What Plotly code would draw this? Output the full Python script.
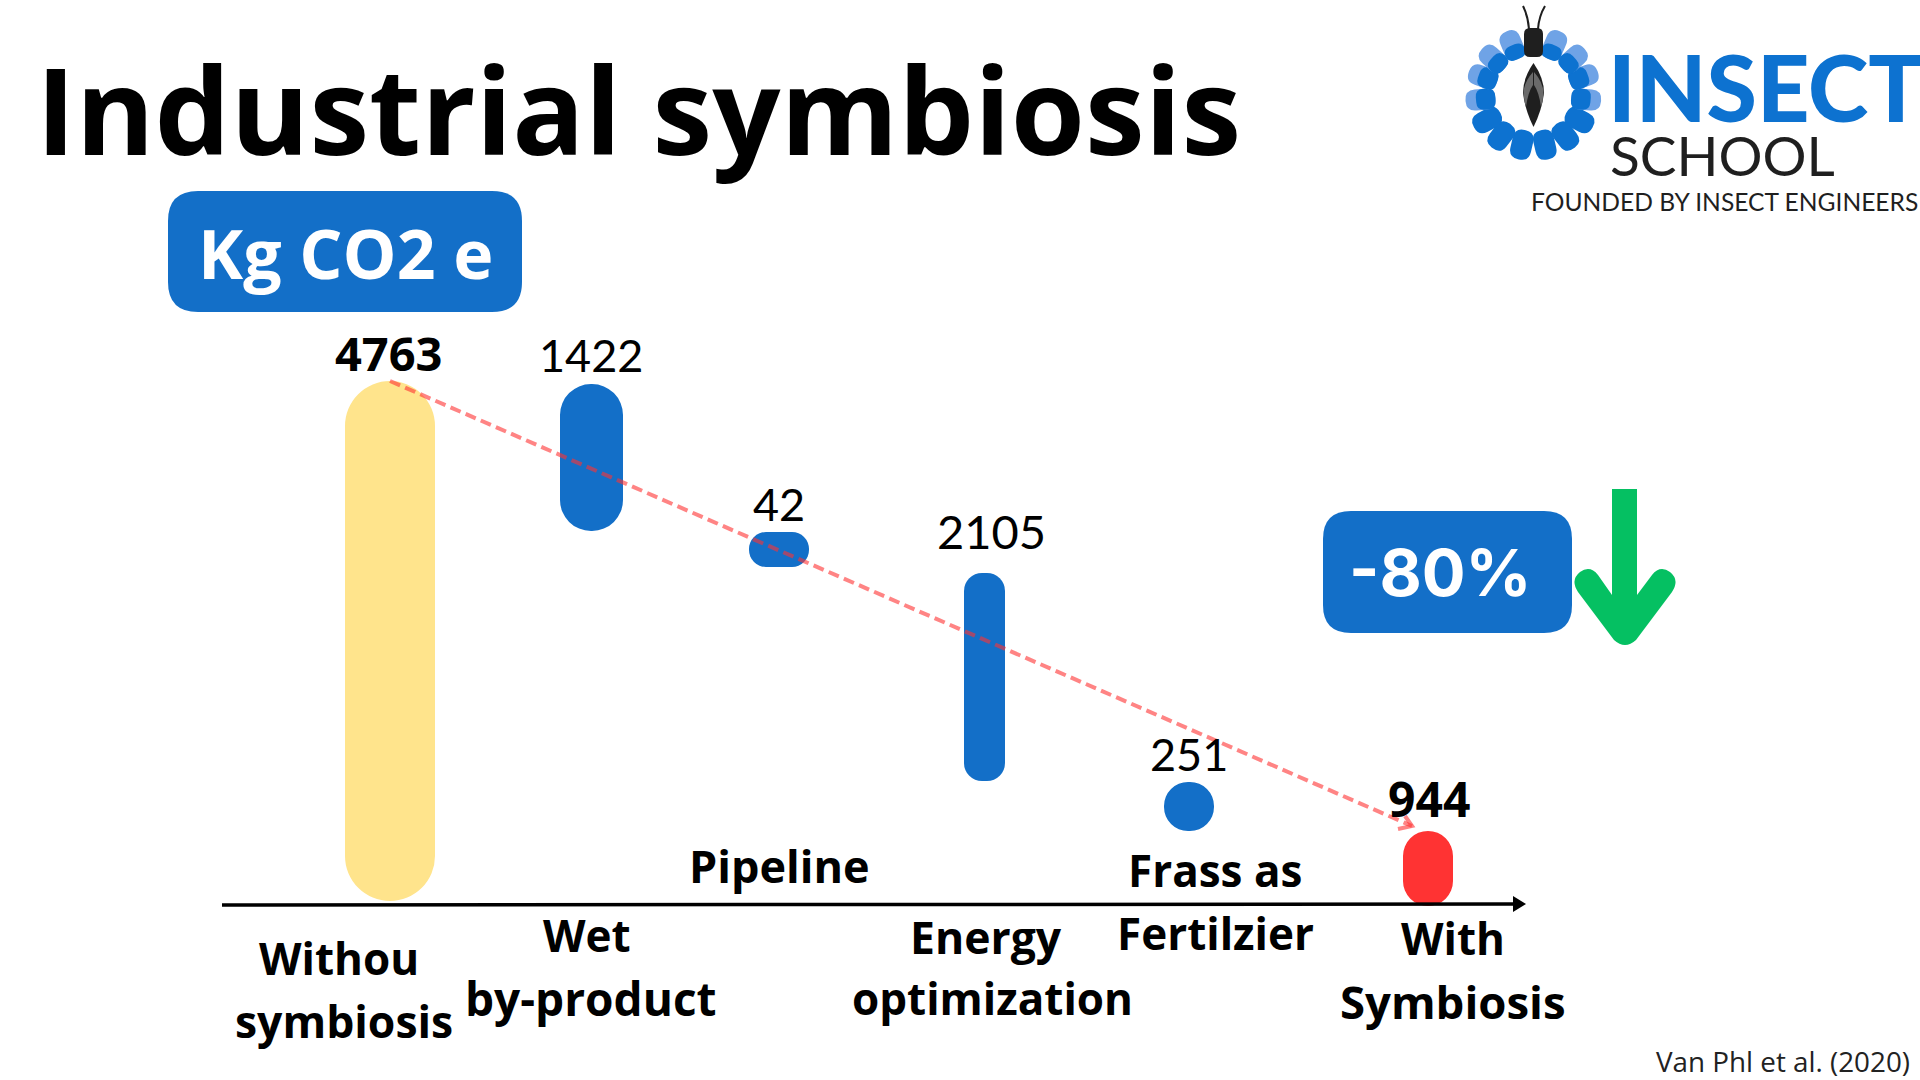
import math
import plotly.graph_objects as go

# values printed on the chart
categories = ['Without symbiosis', 'Wet by-product', 'Pipeline', 'Energy optimization', 'Frass as Fertilzier', 'With Symbiosis']
value_labels = ['4763', '1422', '42', '2105', '251', '944']

# extent of each bar, kg CO2 e
bar_top = [4763, 4736, 3391, 3018, 1118, 673]
bar_bottom = [36, 3400, 3072, 1127, 673, -9]

# drawing settings, one per bar
bar_x = [390, 591.5, 779, 984.5, 1189, 1428]
bar_width = [90, 63, 60, 41, 50, 50]
bar_radius = [45, 31, 17, 18, 25, 25]
bar_color = ['#FFE48C', '#136FC8', '#136FC8', '#136FC8', '#136FC8', '#FF3333']

BLUE = '#136FC8'
LOGO_BLUE = '#0D72D0'
LIGHT_BLUE = '#6FA3E6'
DARK = '#1F1F1F'


def box_path(x0, y0, x1, y1, r):
    return (f'M{x0+r} {y0} L{x1-r} {y0} Q{x1} {y0} {x1} {y0+r} L{x1} {y1-r} Q{x1} {y1} {x1-r} {y1} '
            f'L{x0+r} {y1} Q{x0} {y1} {x0} {y1-r} L{x0} {y0+r} Q{x0} {y0} {x0+r} {y0} Z')


def petal_path(cx, cy, length, width, r, angle):
    # rounded box rotated about its centre, angle counted from straight down
    a = math.radians(angle)
    ux, uy = math.sin(a), math.cos(a)
    vx, vy = uy, -ux
    def pt(s, t):
        return f'{cx + s*ux + t*vx:.2f} {cy + s*uy + t*vy:.2f}'
    l, w = length / 2, width / 2
    return (f'M{pt(-l+r, -w)} L{pt(l-r, -w)} Q{pt(l, -w)} {pt(l, -w+r)} L{pt(l, w-r)} Q{pt(l, w)} {pt(l-r, w)} '
            f'L{pt(-l+r, w)} Q{pt(-l, w)} {pt(-l, w-r)} L{pt(-l, -w+r)} Q{pt(-l, -w)} {pt(-l+r, -w)} Z')


def add_shape(path, color, line=None, width=0):
    shapes.append(dict(type='path', path=path, xref='x', yref='y2', fillcolor=color, layer='above',
                       line=dict(color=line or color, width=width)))


def add_text(text, x, y, size, color='black', family='Open Sans', weight=700, anchor='center'):
    annotations.append(dict(text=text, x=x, y=y, xref='x', yref='y2', xanchor=anchor, yanchor='middle',
                            showarrow=False, font=dict(size=size, color=color, family=family, weight=weight)))


fig = go.Figure()

# one floating bar per step, plotly rounds both ends when they are not stacked
for i in range(len(bar_top)):
    fig.add_trace(go.Bar(x=[bar_x[i]], y=[bar_top[i] - bar_bottom[i]], base=[bar_bottom[i]], width=[bar_width[i]],
                         name=categories[i], showlegend=False, hoverinfo='skip',
                         marker=dict(color=bar_color[i], line_width=0, cornerradius=bar_radius[i])))

shapes = []
annotations = []

# x axis with its arrow
shapes.append(dict(type='line', x0=222, y0=905, x1=1520, y1=904, xref='x', yref='y2', layer='above',
                   line=dict(color='black', width=3.5)))
add_shape('M1513 896 L1526 904 L1513 912 Z', 'black')

# dashed trend arrow
shapes.append(dict(type='line', x0=390, y0=381, x1=1412, y1=826, xref='x', yref='y2', layer='above',
                   line=dict(color='rgba(255,50,50,0.6)', width=4, dash='11px,5.5px')))
shapes.append(dict(type='path', path='M1405 816 L1412 826 L1398 829', xref='x', yref='y2', layer='above',
                   line=dict(color='rgba(255,50,50,0.6)', width=4)))

# blue boxes and green arrow
add_shape(box_path(168, 191, 522, 312, 30), BLUE)
add_shape(box_path(1323, 511, 1572, 633, 28), BLUE)
add_shape('M1612 489 L1637 489 L1637 595 L1652 575 Q1660 565 1670 572 Q1680 580 1672 592 L1636 640 '
          'Q1625 650 1614 640 L1578 592 Q1570 580 1580 572 Q1590 565 1598 575 L1612 595 Z', '#05C062')

# logo ring
ring_angles = [13, 38, 61.5, 85, 110, 132, 157]
ring_radius = [51, 52, 52.5, 53, 53.5, 54, 54]
ring_light = [0, 0, 0, 0.35, 0.35, 0.45, 0.5]
for side in [-1, 1]:
    for ang, rad, light in zip(ring_angles, ring_radius, ring_light):
        a = math.radians(side * ang)
        cx, cy = 1533.3 + rad * math.sin(a), 95 + rad * math.cos(a)
        if light:
            add_shape(petal_path(cx, cy, 30, 21, 10, side * ang), LIGHT_BLUE)
            shift = 30 * light / 2
            add_shape(petal_path(cx - shift * math.sin(a), cy - shift * math.cos(a), 30 * (1 - light), 21, 8, side * ang), LOGO_BLUE)
        else:
            add_shape(petal_path(cx, cy, 30, 21, 10, side * ang), LOGO_BLUE)

# insect
add_shape(box_path(1524, 28, 1543, 57, 6), DARK)
for path in ['M1529 29 Q1528 16 1523 6', 'M1538 29 Q1539 16 1545 6']:
    shapes.append(dict(type='path', path=path, xref='x', yref='y2', layer='above', line=dict(color=DARK, width=2)))
add_shape('M1533.5 63 Q1523 78 1523 93 Q1525 110 1533.5 127 Q1542 110 1544 93 Q1544 78 1533.5 63 Z', DARK)
add_shape('M1533 72 Q1524 82 1523.5 93 Q1524 101 1526 107 Q1528 92 1533 85 Z', '#6A6A6A')
add_shape('M1534 72 Q1543 82 1543.5 93 Q1543 101 1541 107 Q1539 92 1534 85 Z', '#6A6A6A')

# titles and boxes
add_text('Industrial symbiosis', 638.5, 108, 120)
add_text('Kg CO2 e', 345, 252, 68, color='white')
add_text('-80%', 1440, 572, 65, color='white', family='Inter')

# value labels
add_text(value_labels[0], 389, 353, 47)
add_text(value_labels[1], 591, 355, 45, family='Lato', weight=400)
add_text(value_labels[2], 779, 504, 45, family='Lato', weight=400)
add_text(value_labels[3], 991, 531, 47, family='Lato', weight=400)
add_text(value_labels[4], 1189, 754, 45, family='Lato', weight=400)
add_text(value_labels[5], 1429, 798, 48)

# category labels, placed one line at a time as in the picture
add_text('Withou', 339, 958, 44)
add_text('symbiosis', 344, 1020, 44.5)
add_text('Wet', 587, 935, 44)
add_text('by-product', 591, 998, 46)
add_text('Pipeline', 779, 865, 45)
add_text('Energy', 986, 936, 44.5)
add_text('optimization', 992, 998, 44)
add_text('Frass as', 1215, 870, 44)
add_text('Fertilzier', 1215, 933, 44)
add_text('With', 1453, 938, 44)
add_text('Symbiosis', 1453, 1001, 45.5)

# logo text and source
add_text('INSECT', 1766, 86, 91.5, color=LOGO_BLUE, family='Lato', weight=900)
add_text('SCHOOL', 1722, 155, 55, color=DARK, family='Lato', weight=400)
add_text('FOUNDED BY INSECT ENGINEERS', 1724, 201, 24.6, color=DARK, family='Lato', weight=400)
add_text('Van Phl et al. (2020)', 1912, 1060.5, 27.8, color='#222222', family='Open Sans', weight=400, anchor='right')

# keeps the second axis alive for the decoration drawn in pixel positions
fig.add_trace(go.Scatter(x=[0], y=[0], yaxis='y2', mode='markers', marker_opacity=0, showlegend=False, hoverinfo='skip'))

fig.update_layout(
    width=1920, height=1080, margin=dict(l=0, r=0, t=0, b=0),
    paper_bgcolor='white', plot_bgcolor='white', barmode='overlay', showlegend=False,
    xaxis=dict(range=[0, 1920], visible=False, fixedrange=True),
    yaxis=dict(range=[-1591, 8227], visible=False, fixedrange=True),
    yaxis2=dict(range=[1080, 0], visible=False, overlaying='y', fixedrange=True),
    shapes=shapes, annotations=annotations,
)

fig.write_html("out.html", config={'displayModeBar': False}, post_script="document.body.style.margin='0';")
